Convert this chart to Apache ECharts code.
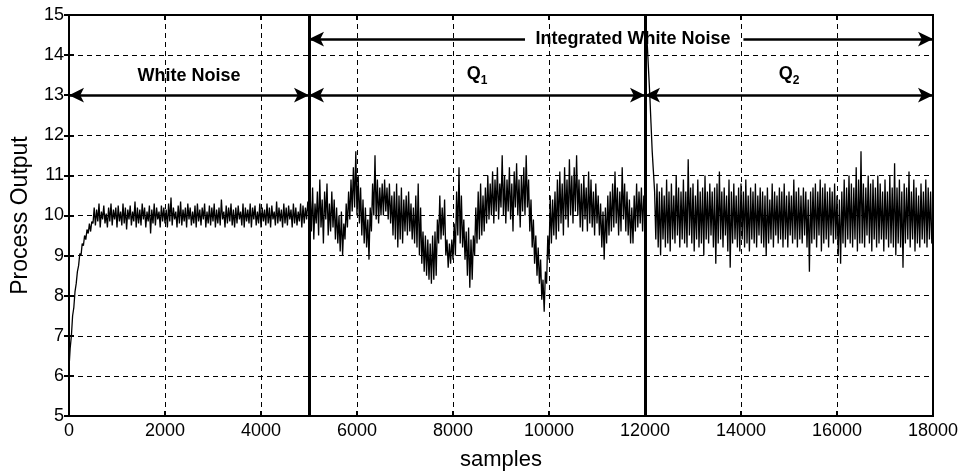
<!DOCTYPE html>
<html>
<head>
<meta charset="utf-8">
<script src="https://cdn.jsdelivr.net/npm/echarts@6/dist/echarts.min.js"></script>
<style>html,body{margin:0;padding:0;background:#fff}#c{width:964px;height:476px}</style>
</head>
<body>
<div id="c"></div>
<script>
// tick labels
const xTicks = [0, 2000, 4000, 6000, 8000, 10000, 12000, 14000, 16000, 18000];
const yTicks = [5, 6, 7, 8, 9, 10, 11, 12, 13, 14, 15];

// Segment 1: white noise, samples 0..5000 every 25
const seg1Start = 0, seg1Step = 25;
const seg1Values = [
  6.2, 6.7, 7.0, 7.5, 7.7, 8.1, 8.3, 8.6, 8.75, 9.05, 9.0, 9.3, 9.25, 9.5, 9.4, 9.65, 9.55, 9.8, 9.6, 9.85,
  9.8, 10.2, 9.75, 10.15, 9.85, 10.3, 9.7, 10.1, 9.9, 10.25, 9.8, 10.05, 9.7, 10.2, 9.85, 10.3, 9.75, 10.15, 9.9, 10.2,
  9.7, 10.25, 9.85, 10.1, 9.75, 10.3, 9.8, 10.2, 9.65, 10.15, 9.9, 10.25, 9.75, 10.1, 9.85, 10.35, 9.7, 10.2, 9.8, 10.15,
  9.75, 10.3, 9.9, 10.2, 9.7, 10.1, 9.85, 10.25, 9.55, 10.15, 9.8, 10.3, 9.75, 10.2, 9.9, 10.1, 9.7, 10.25, 9.85, 10.2,
  9.8, 10.15, 9.7, 10.3, 9.85, 10.45, 9.75, 10.2, 9.9, 10.1, 9.7, 10.25, 9.8, 10.35, 9.75, 10.15, 9.85, 10.2, 9.7, 10.3,
  9.9, 10.2, 9.75, 10.1, 9.8, 10.25, 9.7, 10.3, 9.85, 10.15, 9.75, 10.2, 9.9, 10.3, 9.7, 10.1, 9.8, 10.25, 9.75, 10.2,
  9.85, 10.3, 9.7, 10.15, 9.8, 10.2, 9.75, 10.4, 9.9, 10.1, 9.7, 10.25, 9.8, 10.2, 9.85, 10.3, 9.75, 10.15, 9.7, 10.2,
  9.8, 10.25, 9.9, 10.1, 9.75, 10.3, 9.7, 10.2, 9.85, 10.15, 9.8, 10.3, 9.7, 10.2, 9.9, 10.25, 9.75, 10.1, 9.8, 10.3,
  9.7, 10.2, 9.85, 10.15, 9.75, 10.3, 9.8, 10.2, 9.7, 10.25, 9.9, 10.1, 9.75, 10.35, 9.8, 10.2, 9.85, 10.15, 9.7, 10.3,
  9.8, 10.2, 9.75, 10.25, 9.9, 10.15, 9.7, 10.3, 9.8, 10.2, 9.75, 10.1, 9.85, 10.3, 9.7, 10.25, 9.8, 10.2, 9.9, 10.35,
  10.0
];

// Segment 2: integrated white noise Q1, samples 5025..12000 every 25
const seg2Start = 5025, seg2Step = 25;
const seg2Values = [
  10.5, 9.6, 10.7, 9.4, 10.3, 9.8, 10.6, 9.5, 10.9, 9.7, 10.4, 9.3, 10.6, 9.9, 10.8, 9.5, 10.3, 9.6, 10.6, 9.7,
  10.4, 9.4, 10.2, 9.3, 10.0, 9.1, 10.1, 9.0, 9.8, 9.4, 10.3, 9.7, 10.6, 9.9, 10.9, 10.1, 11.2, 10.2, 11.6, 10.0,
  11.0, 9.8, 10.7, 9.5, 10.4, 9.3, 10.2, 9.2, 9.9, 8.9, 10.2, 9.6, 10.8, 10.0, 11.5, 9.9, 10.9, 9.8, 10.7, 10.0,
  10.8, 10.0, 10.9, 10.1, 10.7, 9.9, 10.8, 9.8, 10.5, 9.5, 10.6, 9.4, 10.8, 9.2, 10.5, 9.4, 10.7, 9.3, 10.4, 9.6,
  10.5, 9.5, 10.6, 9.6, 10.3, 9.4, 10.2, 9.3, 10.5, 9.2, 10.8, 9.0, 10.2, 8.8, 9.6, 8.6, 9.5, 8.5, 9.4, 8.4,
  9.3, 8.3, 9.5, 8.4, 9.6, 8.5, 9.9, 9.3, 10.5, 9.4, 10.2, 9.5, 10.4, 9.0, 9.4, 8.7, 9.3, 8.8, 9.4, 8.9,
  9.8, 9.0, 10.6, 9.5, 11.2, 9.3, 10.5, 9.2, 9.9, 8.9, 9.6, 8.5, 9.7, 8.2, 9.4, 8.4, 9.5, 9.0, 10.2, 9.3,
  10.6, 9.4, 10.8, 9.5, 10.5, 9.6, 10.7, 9.8, 11.0, 9.9, 10.8, 10.0, 11.1, 9.8, 10.9, 10.1, 11.2, 9.9, 10.8, 10.2,
  11.5, 10.0, 11.0, 9.8, 10.9, 10.1, 11.2, 9.9, 10.8, 9.6, 11.1, 10.2, 11.3, 10.0, 10.9, 9.7, 11.0, 10.1, 11.2, 10.0,
  11.5, 10.2, 10.9, 9.6, 10.4, 9.2, 9.9, 8.8, 9.5, 8.5, 9.2, 8.3, 8.9, 7.9, 8.4, 7.6, 8.6, 8.3, 9.5, 8.9,
  10.5, 9.3, 10.4, 9.5, 10.6, 9.4, 10.9, 9.6, 11.1, 9.8, 10.8, 9.5, 11.2, 9.9, 10.9, 9.7, 11.4, 10.0, 11.0, 9.8,
  11.2, 10.1, 11.5, 10.0, 10.9, 9.7, 10.8, 9.6, 11.0, 9.9, 10.7, 9.6, 11.1, 9.8, 10.9, 9.7, 10.6, 9.5, 10.8, 9.8,
  10.5, 9.5, 10.3, 9.2, 10.1, 8.9, 10.2, 9.3, 10.5, 9.5, 10.6, 9.6, 10.8, 9.7, 11.1, 9.8, 10.7, 9.5, 10.6, 9.6,
  11.2, 9.9, 10.8, 9.6, 10.6, 9.5, 10.4, 9.3, 10.2, 9.3, 10.5, 9.6, 10.8, 9.7, 10.6, 9.8, 10.7, 9.6, 10.5, 10.0
];

// Segment 3: integrated white noise Q2, samples 12000..18000 every 25
const seg3Start = 12000, seg3Step = 25;
const seg3Values = [
  15.0, 14.7, 14.2, 13.6, 13.0, 12.3, 11.6, 11.1, 10.6, 9.4, 10.8, 9.2, 10.6, 9.0, 10.7, 9.4, 10.5, 9.2, 10.9, 9.3,
  10.6, 9.1, 10.8, 9.4, 10.5, 9.3, 11.0, 9.5, 10.7, 9.2, 10.6, 9.4, 10.9, 9.3, 10.6, 9.2, 11.4, 9.5, 10.7, 9.3,
  10.8, 9.1, 10.5, 9.4, 10.9, 9.2, 10.6, 9.3, 10.7, 9.0, 11.0, 9.4, 10.6, 9.3, 10.8, 9.5, 10.6, 9.2, 10.7, 8.8,
  10.8, 9.3, 11.1, 9.4, 10.6, 9.2, 10.7, 9.5, 10.5, 9.1, 10.9, 8.7, 10.6, 9.3, 10.8, 9.4, 10.5, 9.2, 10.7, 9.1,
  10.8, 9.4, 10.6, 9.2, 10.9, 9.3, 10.5, 9.1, 10.7, 9.4, 10.6, 9.3, 10.8, 9.2, 10.5, 9.5, 10.7, 9.3, 10.6, 9.2,
  10.5, 9.0, 10.7, 9.3, 10.4, 9.4, 10.8, 9.2, 10.6, 9.5, 10.5, 9.3, 10.7, 9.4, 10.6, 9.2, 10.8, 9.4, 10.5, 9.2,
  10.6, 9.5, 10.5, 9.3, 10.9, 9.4, 10.6, 9.2, 10.7, 9.4, 10.5, 9.3, 10.7, 9.5, 10.6, 9.2, 10.4, 8.6, 10.6, 9.3,
  10.7, 9.4, 10.8, 9.2, 10.6, 9.5, 10.9, 9.1, 10.7, 9.3, 10.8, 9.4, 10.6, 9.2, 10.7, 9.5, 10.6, 9.3, 10.8, 9.4,
  10.5, 9.0, 10.4, 8.8, 10.6, 9.3, 10.9, 9.2, 10.7, 9.4, 11.0, 9.3, 10.8, 9.2, 10.7, 9.4, 11.2, 9.1, 10.9, 9.3,
  11.6, 9.3, 10.8, 9.2, 10.7, 9.5, 11.0, 9.3, 10.8, 9.1, 10.9, 9.4, 10.7, 9.2, 11.0, 9.3, 10.8, 9.4, 10.6, 9.1,
  10.9, 9.4, 10.6, 9.2, 11.0, 9.3, 10.7, 9.2, 11.3, 9.0, 10.7, 9.3, 10.9, 9.2, 10.6, 8.7, 10.8, 9.3, 10.7, 9.4,
  11.1, 9.2, 10.6, 9.4, 10.9, 9.1, 10.7, 9.3, 10.5, 9.2, 10.8, 9.4, 10.6, 9.3, 10.9, 9.2, 10.7, 9.4, 10.6, 9.3,
  9.6
];

// Region boundaries and annotations
const boundaries = [5000, 12000];
const regionLabels = [
  { text: 'White Noise', from: 0, to: 5000, y: 13 },
  { text: 'Q1', from: 5000, to: 12000, y: 13 },
  { text: 'Q2', from: 12000, to: 18000, y: 13 }
];
const topSpan = { text: 'Integrated White Noise', from: 5000, to: 18000, y: 14.4, gapFrom: 9500, gapTo: 14050, labelX: 11750 };

function build(start, step, vals) { return vals.map((v, i) => [start + i * step, v]); }
const data = [].concat(build(seg1Start, seg1Step, seg1Values), build(seg2Start, seg2Step, seg2Values), build(seg3Start, seg3Step, seg3Values));

const FONT = '"Liberation Sans", Arial, sans-serif';
const chart = echarts.init(document.getElementById('c'), null, { renderer: 'canvas' });

const arrowLines = regionLabels.map(r => [
  { coord: [r.from, r.y], symbol: 'arrow' },
  { coord: [r.to, r.y], symbol: 'arrow' }
]);
arrowLines.push([{ coord: [topSpan.from, topSpan.y], symbol: 'arrow' }, { coord: [topSpan.gapFrom, topSpan.y], symbol: 'none' }]);
arrowLines.push([{ coord: [topSpan.gapTo, topSpan.y], symbol: 'none' }, { coord: [topSpan.to, topSpan.y], symbol: 'arrow' }]);

const labelPts = regionLabels.map(r => {
  const m = r.text.match(/^Q(\d)$/);
  return {
    coord: [(r.from + r.to) / 2, 13.48],
    label: { formatter: m ? '{q|Q}{s|' + m[1] + '}' : r.text }
  };
});
labelPts.push({ coord: [topSpan.labelX, topSpan.y], label: { formatter: topSpan.text } });

const tickOnly = {
  axisLine: { show: false },
  axisTick: { show: true, inside: true, length: 5, lineStyle: { color: '#000', width: 2 } },
  axisLabel: { show: false },
  splitLine: { show: false }
};

const option = {
  animation: false,
  backgroundColor: '#fff',
  grid: { left: 69, right: 31, top: 15, bottom: 53, show: true, borderColor: '#000', borderWidth: 2 },
  xAxis: [{
    type: 'value', min: 0, max: 18000, interval: 2000, position: 'bottom',
    name: 'samples', nameLocation: 'middle', nameGap: 33,
    nameTextStyle: { fontFamily: FONT, fontSize: 22, color: '#000' },
    axisLine: { show: true, lineStyle: { color: '#000', width: 2 } },
    axisTick: { show: true, inside: true, length: 5, lineStyle: { color: '#000', width: 2 } },
    axisLabel: { fontFamily: FONT, fontSize: 18, color: '#000', margin: 6,
      formatter: v => xTicks.includes(v) ? String(v) : '' },
    splitLine: { show: true, lineStyle: { color: '#000', width: 1, type: [5, 4] } }
  }, Object.assign({ type: 'value', min: 0, max: 18000, interval: 2000, position: 'top' }, tickOnly)],
  yAxis: [{
    type: 'value', min: 5, max: 15, interval: 1, position: 'left',
    name: 'Process Output', nameLocation: 'middle', nameGap: 37,
    nameTextStyle: { fontFamily: FONT, fontSize: 23, color: '#000' },
    axisLine: { show: true, lineStyle: { color: '#000', width: 2 } },
    axisTick: { show: true, inside: true, length: 5, lineStyle: { color: '#000', width: 2 } },
    axisLabel: { fontFamily: FONT, fontSize: 18, color: '#000', margin: 5,
      formatter: v => yTicks.includes(v) ? String(v) : '' },
    splitLine: { show: true, lineStyle: { color: '#000', width: 1, type: [5, 4] } }
  }, Object.assign({ type: 'value', min: 5, max: 15, interval: 1, position: 'right' }, tickOnly)],
  series: [
    {
      type: 'line', data: data, showSymbol: false, symbol: 'none', sampling: false,
      lineStyle: { color: '#000', width: 1.3 }, silent: true, z: 3
    },
    {
      type: 'line', data: [], silent: true, z: 4,
      markLine: {
        silent: true, animation: false, symbol: ['none', 'none'],
        label: { show: false },
        lineStyle: { color: '#000', width: 3, type: 'solid' },
        data: boundaries.map(b => ({ xAxis: b }))
      }
    },
    {
      type: 'line', data: [], silent: true, z: 5,
      markLine: {
        silent: true, animation: false, symbolSize: [11, 15],
        label: { show: false },
        lineStyle: { color: '#000', width: 2.5, type: 'solid' },
        data: arrowLines
      },
      markPoint: {
        silent: true, animation: false, symbol: 'rect', symbolSize: 1,
        itemStyle: { color: 'rgba(0,0,0,0)' },
        label: {
          show: true, position: 'inside', color: '#000', fontFamily: FONT, fontWeight: 'bold', fontSize: 18,
          rich: {
            q: { fontFamily: FONT, fontWeight: 'bold', fontSize: 18, color: '#000', lineHeight: 22, verticalAlign: 'top' },
            s: { fontFamily: FONT, fontWeight: 'bold', fontSize: 12, color: '#000', lineHeight: 12, verticalAlign: 'bottom' }
          }
        },
        data: labelPts
      }
    }
  ]
};
chart.setOption(option);
</script>
</body>
</html>
